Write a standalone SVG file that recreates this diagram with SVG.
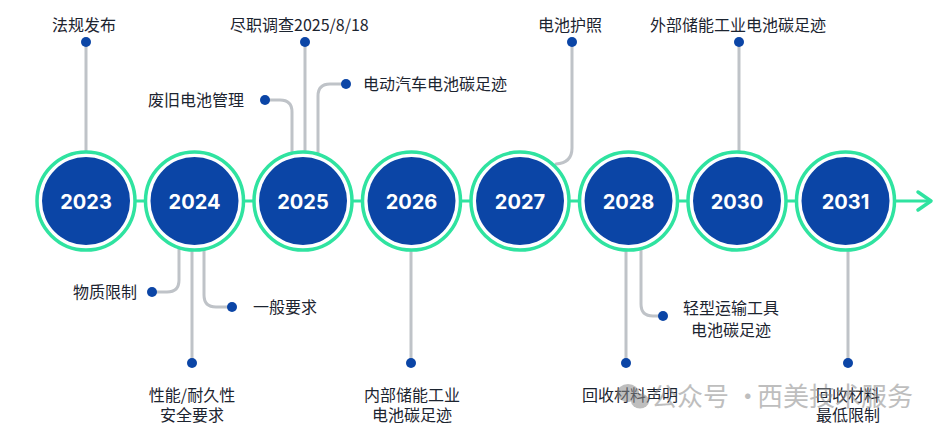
<svg xmlns="http://www.w3.org/2000/svg" width="946" height="435" viewBox="0 0 946 435">
<style>
.ring{fill:#fff;stroke:#2fe3a0;stroke-width:3.5}
.core{fill:#0b45a6}
.yr{font-family:Inter,"Liberation Sans",sans-serif;font-weight:700;font-size:20px;fill:#fff;text-anchor:middle}
.lbl{font-family:"Noto Sans CJK SC","Noto Sans",sans-serif;font-size:16px;fill:#1c2430}
.mid{text-anchor:middle}
.end{text-anchor:end}
.conn{fill:none;stroke:#bfc3c8;stroke-width:3;stroke-linecap:round}
.dot{fill:#0b45a6}
.wm{font-family:"Noto Sans CJK SC",sans-serif;font-size:26px;fill:#8a8a8a;opacity:0.55}
</style>
<rect width="946" height="435" fill="#fff"/>
<g id="connectors">
<path class="conn" d="M86,42 V160"/>
<path class="conn" d="M265,100 H280 Q292,100 292,112 V160"/>
<path class="conn" d="M305,42 V160"/>
<path class="conn" d="M346,84 H330 Q318,84 318,96 V160"/>
<path class="conn" d="M572,42 V148 Q572,163 556,164"/>
<path class="conn" d="M739,42 V160"/>
<path class="conn" d="M179,240 V280 Q179,292 167,292 H152"/>
<path class="conn" d="M192,240 V363"/>
<path class="conn" d="M204,240 V295 Q204,307 216,307 H232"/>
<path class="conn" d="M411,240 V363"/>
<path class="conn" d="M626,240 V363"/>
<path class="conn" d="M641,240 V304 Q641,316 653,316 H663"/>
<path class="conn" d="M848,240 V363"/>
<path d="M86,201 H930" fill="none" stroke="#2fe3a0" stroke-width="3"/>
<path d="M918,192 L931,201 L918,210" fill="none" stroke="#2fe3a0" stroke-width="3.5" stroke-linecap="round" stroke-linejoin="round"/>
</g>
<g id="y2023"><circle class="ring" cx="86" cy="201" r="49"/><circle class="core" cx="86" cy="201" r="44"/><text class="yr" x="86" y="209">2023</text></g>
<g id="y2024"><circle class="ring" cx="194.5" cy="201" r="49"/><circle class="core" cx="194.5" cy="201" r="44"/><text class="yr" x="194.5" y="209">2024</text></g>
<g id="y2025"><circle class="ring" cx="303" cy="201" r="49"/><circle class="core" cx="303" cy="201" r="44"/><text class="yr" x="303" y="209">2025</text></g>
<g id="y2026"><circle class="ring" cx="411.5" cy="201" r="49"/><circle class="core" cx="411.5" cy="201" r="44"/><text class="yr" x="411.5" y="209">2026</text></g>
<g id="y2027"><circle class="ring" cx="520" cy="201" r="49"/><circle class="core" cx="520" cy="201" r="44"/><text class="yr" x="520" y="209">2027</text></g>
<g id="y2028"><circle class="ring" cx="628.5" cy="201" r="49"/><circle class="core" cx="628.5" cy="201" r="44"/><text class="yr" x="628.5" y="209">2028</text></g>
<g id="y2030"><circle class="ring" cx="737" cy="201" r="49"/><circle class="core" cx="737" cy="201" r="44"/><text class="yr" x="737" y="209">2030</text></g>
<g id="y2031"><circle class="ring" cx="845.5" cy="201" r="49"/><circle class="core" cx="845.5" cy="201" r="44"/><text class="yr" x="845.5" y="209">2031</text></g>
<g id="e-fagui"><circle class="dot" cx="86" cy="42" r="5"/><text class="lbl mid" x="84" y="31">法规发布</text></g>
<g id="e-feijiu"><circle class="dot" cx="265" cy="100" r="5"/><text class="lbl end" x="244" y="106">废旧电池管理</text></g>
<g id="e-jinzhi"><circle class="dot" cx="305" cy="42" r="5"/><text class="lbl" x="230" y="31">尽职调查2025/8/18</text></g>
<g id="e-ev"><circle class="dot" cx="346" cy="84" r="5"/><text class="lbl" x="363" y="90">电动汽车电池碳足迹</text></g>
<g id="e-passport"><circle class="dot" cx="572" cy="42" r="5"/><text class="lbl mid" x="570" y="31">电池护照</text></g>
<g id="e-ext"><circle class="dot" cx="739" cy="42" r="5"/><text class="lbl" x="650" y="31">外部储能工业电池碳足迹</text></g>
<g id="e-wuzhi"><circle class="dot" cx="152" cy="292" r="5"/><text class="lbl end" x="137" y="298">物质限制</text></g>
<g id="e-xingneng"><circle class="dot" cx="192" cy="363" r="5"/><text class="lbl mid" x="192" y="401">性能/耐久性</text><text class="lbl mid" x="192" y="421">安全要求</text></g>
<g id="e-yiban"><circle class="dot" cx="232" cy="307" r="5"/><text class="lbl" x="253" y="313">一般要求</text></g>
<g id="e-int"><circle class="dot" cx="411" cy="363" r="5"/><text class="lbl mid" x="412" y="401">内部储能工业</text><text class="lbl mid" x="412" y="421">电池碳足迹</text></g>
<g id="e-huishou"><circle class="dot" cx="626" cy="363" r="5"/><text class="lbl mid" x="630" y="401">回收材料声明</text></g>
<g id="e-light"><circle class="dot" cx="663" cy="316" r="5"/><text class="lbl mid" x="731" y="314">轻型运输工具</text><text class="lbl mid" x="731" y="336">电池碳足迹</text></g>
<g id="e-min"><circle class="dot" cx="848" cy="363" r="5"/><text class="lbl mid" x="848" y="401">回收材料</text><text class="lbl mid" x="848" y="421">最低限制</text></g>
<g id="watermark" opacity="0.55" fill="#8a8a8a">
<ellipse cx="628" cy="393" rx="11" ry="9"/>
<ellipse cx="640" cy="401" rx="9" ry="7.5"/>
<text class="wm" x="651" y="406" style="opacity:1">公众号 · </text>
<text class="wm" x="757" y="406" style="opacity:1">西美技术服务</text>
</g>
</svg>
